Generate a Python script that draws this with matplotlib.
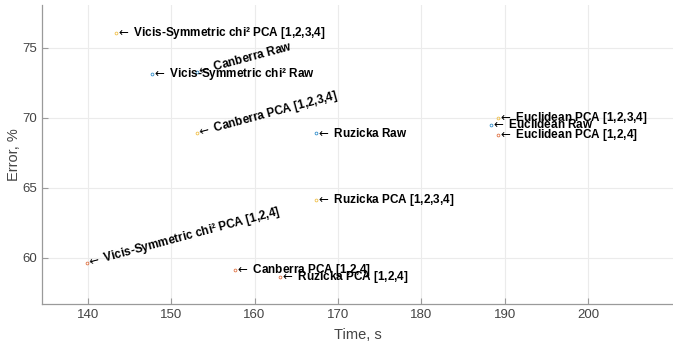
import matplotlib.pyplot as plt

plt.rcParams['font.family'] = ['Liberation Sans', 'DejaVu Sans']
plt.rcParams['mathtext.fontset'] = 'dejavusans'

# method names and the three feature variants
methods = ['Euclidean', 'Canberra', 'Ruzicka', 'Vicis-Symmetric chi²']
variants = ['Raw', 'PCA [1,2,3,4]', 'PCA [1,2,4]']

# time (s) per method, one list per variant
time_raw = [188.4, 153.1, 167.4, 147.7]
time_pca1234 = [189.2, 153.1, 167.4, 143.4]
time_pca124 = [189.2, 157.6, 163.0, 139.9]

# error (%) per method, one list per variant
err_raw = [69.5, 73.3, 68.9, 73.1]
err_pca1234 = [70.0, 68.9, 64.1, 76.05]
err_pca124 = [68.8, 59.15, 58.65, 59.6]

times = [time_raw, time_pca1234, time_pca124]
errors = [err_raw, err_pca1234, err_pca124]
colors = ['#0072BD', '#EDB120', '#D95319']

# labels drawn at an angle
rotated = {('Canberra', 'Raw'), ('Canberra', 'PCA [1,2,3,4]'),
           ('Vicis-Symmetric chi²', 'PCA [1,2,4]')}

fig = plt.figure(figsize=(6.73, 3.5), dpi=100)
ax = fig.add_axes([42 / 673, 46 / 350, 631 / 673, 299 / 350])

for v, variant in enumerate(variants):
    ax.plot(times[v], errors[v], linestyle='none', marker='o', markersize=2,
            mfc='none', mec=colors[v], mew=0.6, alpha=0.8)
    for m, method in enumerate(methods):
        rot = 15 if (method, variant) in rotated else 0
        ax.text(times[v][m], errors[v][m], r'$\leftarrow$ ' + method + ' ' + variant,
                fontsize=8.5, fontweight='bold', color='black',
                ha='left', va='center', rotation=rot, rotation_mode='anchor')

ax.set_xlim(134.5, 210.2)
ax.set_ylim(56.7, 78.05)
ax.set_xticks([140, 150, 160, 170, 180, 190, 200])
ax.set_yticks([60, 65, 70, 75])

ax.grid(True, color='#ebebeb', linewidth=0.8)
ax.set_axisbelow(True)
for side in ['top', 'right']:
    ax.spines[side].set_visible(False)
for side in ['left', 'bottom']:
    ax.spines[side].set_color('#9a9a9a')
    ax.spines[side].set_linewidth(0.9)
ax.tick_params(direction='in', length=4, width=0.8, color='#9a9a9a',
               labelsize=9.5, labelcolor='#444444')

ax.set_xlabel('Time, s', fontsize=10.5, color='#444444', labelpad=5)
ax.set_ylabel('Error, %', fontsize=10.5, color='#444444', labelpad=1)

fig.savefig('out.png', dpi=100)
